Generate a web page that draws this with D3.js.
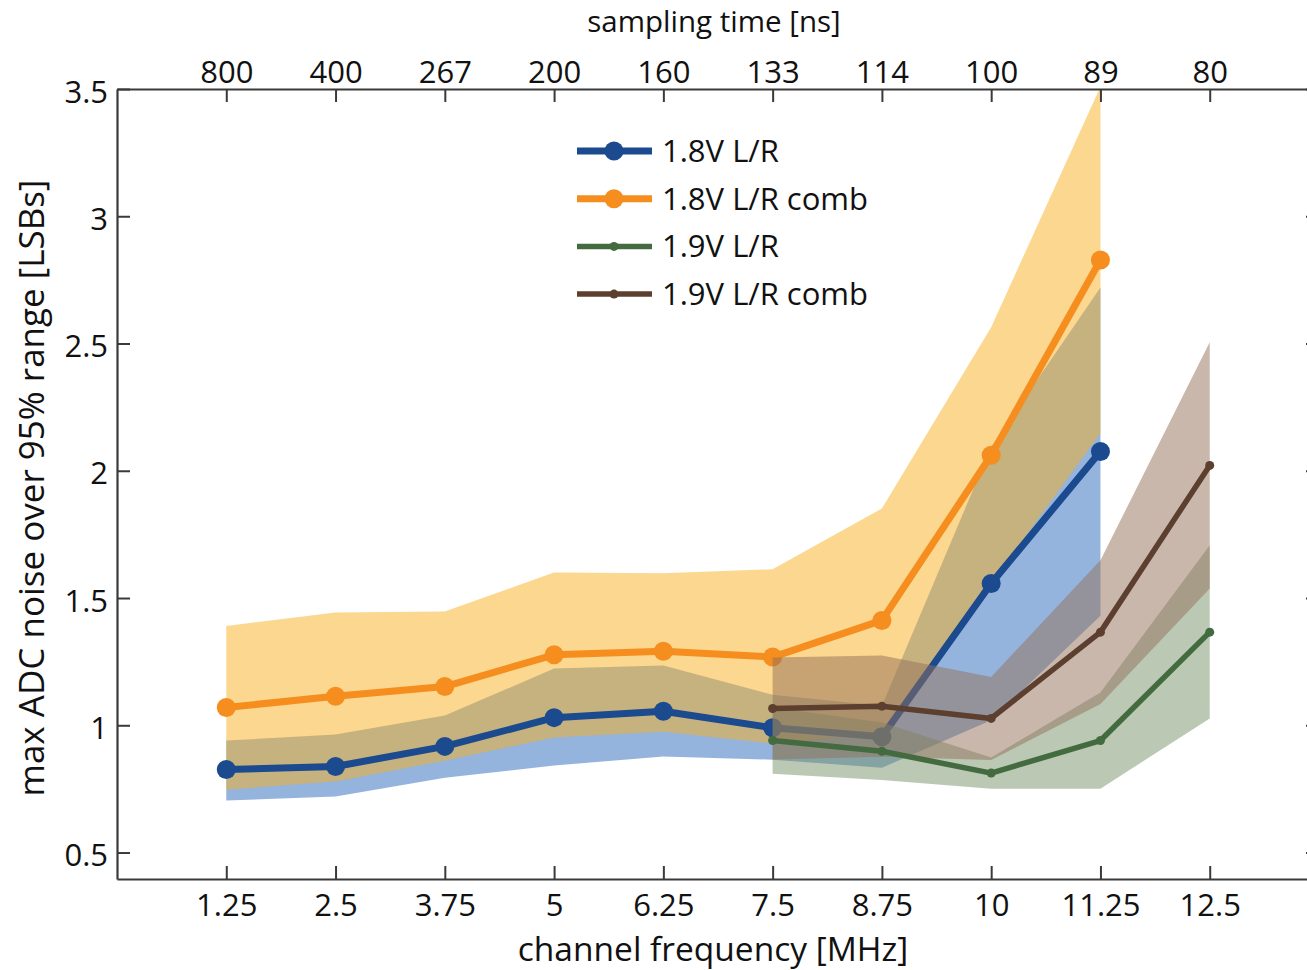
<!DOCTYPE html>
<html>
<head>
<meta charset="utf-8">
<script src="https://cdn.jsdelivr.net/npm/d3@7"></script>
<style>
  body { margin: 0; background: #fff; }
  svg text { font-family: "Open Sans", sans-serif; fill: #111; }
</style>
</head>
<body>
<svg id="chart" width="1307" height="970"></svg>
<script>
// channel frequency [MHz] and matching sampling time [ns]
var freqs = [1.25, 2.5, 3.75, 5, 6.25, 7.5, 8.75, 10, 11.25, 12.5];
var samplingLabels = ["800", "400", "267", "200", "160", "133", "114", "100", "89", "80"];
var yTicks = [0.5, 1, 1.5, 2, 2.5, 3, 3.5];

// 1.8V runs: 1.25 .. 11.25 MHz
var freq18 = [1.25, 2.5, 3.75, 5, 6.25, 7.5, 8.75, 10, 11.25];
var blueMean  = [0.826, 0.838, 0.917, 1.03, 1.055, 0.99, 0.955, 1.557, 2.076];
var blueUpper = [0.94, 0.964, 1.038, 1.223, 1.235, 1.12, 1.077, 2.094, 2.72];
var blueLower = [0.704, 0.72, 0.794, 0.842, 0.877, 0.865, 0.833, 1.02, 1.43];

var orangeMean  = [1.07, 1.114, 1.152, 1.277, 1.291, 1.268, 1.412, 2.061, 2.828];
var orangeUpper = [1.39, 1.443, 1.447, 1.60, 1.597, 1.613, 1.852, 2.564, 3.509];
var orangeLower = [0.747, 0.779, 0.861, 0.952, 0.975, 0.928, 0.972, 1.558, 2.147];

// 1.9V runs: 7.5 .. 12.5 MHz
var freq19 = [7.5, 8.75, 10, 11.25, 12.5];
var greenMean  = [0.94, 0.898, 0.812, 0.94, 1.366];
var greenUpper = [1.07, 1.011, 0.873, 1.129, 1.707];
var greenLower = [0.81, 0.785, 0.751, 0.751, 1.027];

var brownMean  = [1.066, 1.075, 1.027, 1.366, 2.021];
var brownUpper = [1.266, 1.274, 1.19, 1.648, 2.505];
var brownLower = [0.866, 0.876, 0.864, 1.084, 1.537];

var legendNames = ["1.8V L/R", "1.8V L/R comb", "1.9V L/R", "1.9V L/R comb"];

var plotLeft = 117, plotRight = 1319, plotTop = 89, plotBottom = 879;

var x = d3.scaleLinear().domain([0, 13.75]).range([plotLeft, plotRight]);
var y = d3.scaleLinear().domain([0.396, 3.5]).range([plotBottom, plotTop]);

var svg = d3.select("#chart");

svg.append("defs").append("clipPath").attr("id", "plotclip")
  .append("rect")
  .attr("x", plotLeft).attr("y", plotTop)
  .attr("width", plotRight - plotLeft).attr("height", plotBottom - plotTop);

var series = [
  { xs: freq18, mean: blueMean, up: blueUpper, lo: blueLower, line: "#1b4a8f", band: "#2a6abb", width: 7, r: 9.5 },
  { xs: freq18, mean: orangeMean, up: orangeUpper, lo: orangeLower, line: "#f58d1f", band: "#f8b020", width: 7, r: 9.5 },
  { xs: freq19, mean: greenMean, up: greenUpper, lo: greenLower, line: "#436b3f", band: "#76916a", width: 5.5, r: 4.5 },
  { xs: freq19, mean: brownMean, up: brownUpper, lo: brownLower, line: "#5c3f2e", band: "#93705a", width: 5.5, r: 4.5 }
];

var plot = svg.append("g").attr("clip-path", "url(#plotclip)");

var area = d3.area()
  .x(function (d) { return x(d.x); })
  .y0(function (d) { return y(d.lo); })
  .y1(function (d) { return y(d.up); });

var line = d3.line()
  .x(function (d) { return x(d.x); })
  .y(function (d) { return y(d.v); });

function pts(s) {
  return s.xs.map(function (f, i) {
    return { x: f, v: s.mean[i], up: s.up[i], lo: s.lo[i] };
  });
}

function drawBand(s) {
  plot.append("path")
    .attr("d", area(pts(s)))
    .attr("fill", s.band)
    .attr("fill-opacity", 0.5);
}

function drawLine(s) {
  var p = pts(s);
  plot.append("path")
    .attr("d", line(p))
    .attr("fill", "none")
    .attr("stroke", s.line)
    .attr("stroke-width", s.width)
    .attr("stroke-linejoin", "round");
  plot.selectAll(null)
    .data(p)
    .enter()
    .append("circle")
    .attr("cx", function (d) { return x(d.x); })
    .attr("cy", function (d) { return y(d.v); })
    .attr("r", s.r)
    .attr("fill", s.line);
}

// 1.8V bands and lines first, 1.9V drawn over them
drawBand(series[0]);
drawBand(series[1]);
drawLine(series[0]);
drawLine(series[1]);
drawBand(series[2]);
drawBand(series[3]);
drawLine(series[2]);
drawLine(series[3]);

// axes
var axisColor = "#3a3a3a";

var bottomAxis = svg.append("g")
  .attr("transform", "translate(0," + plotBottom + ")")
  .call(d3.axisBottom(x).tickValues(freqs).tickFormat(d3.format("~g"))
    .tickSizeInner(-13).tickSizeOuter(0).tickPadding(15));

var topAxis = svg.append("g")
  .attr("transform", "translate(0," + plotTop + ")")
  .call(d3.axisTop(x).tickValues(freqs)
    .tickFormat(function (d, i) { return samplingLabels[i]; })
    .tickSizeInner(-13).tickSizeOuter(0).tickPadding(6));

var leftAxis = svg.append("g")
  .attr("transform", "translate(" + plotLeft + ",0)")
  .call(d3.axisLeft(y).tickValues(yTicks).tickFormat(d3.format("~g"))
    .tickSizeInner(-13).tickSizeOuter(0).tickPadding(9));

var rightAxis = svg.append("g")
  .attr("transform", "translate(" + plotRight + ",0)")
  .call(d3.axisRight(y).tickValues(yTicks).tickFormat("")
    .tickSizeInner(-13).tickSizeOuter(0));

[bottomAxis, topAxis, leftAxis, rightAxis].forEach(function (a) {
  a.select(".domain").attr("stroke", axisColor).attr("stroke-width", 2.2);
  a.selectAll(".tick line").attr("stroke", axisColor).attr("stroke-width", 2);
  a.selectAll(".tick text")
    .attr("font-family", "Open Sans, sans-serif")
    .attr("font-size", 31)
    .attr("fill", "#111");
});
leftAxis.selectAll(".tick text").attr("dy", "0.42em");

// axis titles
svg.append("text")
  .attr("x", 713).attr("y", 960.5)
  .attr("text-anchor", "middle")
  .attr("font-size", 33.5)
  .text("channel frequency [MHz]");

svg.append("text")
  .attr("x", 714).attr("y", 32)
  .attr("text-anchor", "middle")
  .attr("font-size", 29.5)
  .text("sampling time [ns]");

svg.append("text")
  .attr("transform", "translate(44,488) rotate(-90)")
  .attr("text-anchor", "middle")
  .attr("font-size", 35)
  .text("max ADC noise over 95% range [LSBs]");

// legend
var legend = svg.append("g");
series.forEach(function (s, i) {
  var ly = 151 + i * 47.7;
  legend.append("line")
    .attr("x1", 577).attr("x2", 652)
    .attr("y1", ly).attr("y2", ly)
    .attr("stroke", s.line)
    .attr("stroke-width", s.width);
  legend.append("circle")
    .attr("cx", 614).attr("cy", ly)
    .attr("r", s.r)
    .attr("fill", s.line);
  legend.append("text")
    .attr("x", 662).attr("y", ly + 11)
    .attr("font-size", 31)
    .text(legendNames[i]);
});
</script>
</body>
</html>
